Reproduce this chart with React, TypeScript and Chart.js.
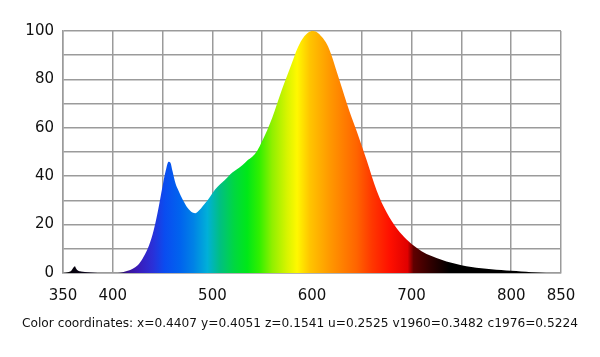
import React, { useEffect, useRef } from "react";
import { Chart, registerables } from "chart.js";

Chart.register(...registerables);

const wavelengths = [
  350, 355, 358, 360, 362, 363, 365, 368, 372, 378, 385, 395, 405, 410, 415, 420, 425, 430, 435, 440,
  445, 450, 453, 456, 458, 460, 463, 466, 470, 475, 480, 483, 487, 490, 495, 500, 505, 510, 515, 520,
  525, 530, 535, 540, 545, 550, 555, 560, 565, 570, 575, 580, 585, 590, 595, 600, 605, 610, 615, 620,
  625, 630, 635, 640, 645, 650, 655, 660, 665, 670, 675, 680, 685, 690, 695, 700, 710, 720, 730, 740,
  750, 760, 770, 780, 790, 800, 810, 820, 830, 840, 850,
];
const intensities = [
  0, 0.3, 0.8, 2.0, 2.8, 2.0, 1.0, 0.6, 0.4, 0.2, 0.05, 0, 0, 0.3, 0.9, 1.8, 3.2, 6.0, 10, 16,
  25, 36, 42, 46, 45.5, 42, 37, 34, 30.5, 27, 25, 24.7, 26, 27.5, 30, 33, 35.5, 37.5, 39.5, 41.5,
  43, 44.5, 46.5, 48, 50.5, 54.5, 59, 64, 70, 76, 81.5, 87, 92.5, 96.5, 99, 100, 99.5, 97.5, 94.5, 89.5,
  83, 76.5, 70, 64, 58.5, 52.5, 46.5, 40, 34, 29, 25, 21.5, 18.5, 16, 13.8, 12, 9, 7, 5.5, 4.2,
  3.2, 2.5, 2, 1.6, 1.2, 0.9, 0.6, 0.35, 0.15, 0.05, 0,
];
const xTickLabels = [350, 400, 500, 600, 700, 800, 850];
const yTickLabels = [0, 20, 40, 60, 80, 100];
const caption =
  "Color coordinates: x=0.4407 y=0.4051 z=0.1541 u=0.2525 v1960=0.3482 c1976=0.5224";

// spectral fill colour stops (wavelength, colour)
const stopNm = [350, 405, 415, 425, 440, 452, 468, 481, 495, 508, 522, 535, 547, 560, 575, 585, 598, 618, 645, 660, 678, 696, 702, 719, 738, 850];
const stopColor = [
  "#000000", "#1a0a40", "#3a1496", "#3a1ab8", "#2a30d8", "#0a4cf0", "#0064ee", "#0082e6", "#00b0d8", "#00c080",
  "#00d840", "#00e818", "#30f000", "#90f000", "#d8f400", "#fff800", "#ffc400", "#ff9800", "#ff6400", "#ff3800",
  "#ff1000", "#e00000", "#600000", "#300000", "#000000", "#000000",
];

export default function App() {
  const ref = useRef<HTMLCanvasElement>(null);
  useEffect(() => {
    if (!ref.current) return;
    const captionPlugin = {
      id: "caption",
      afterDraw(chart: any) {
        const c = chart.ctx;
        c.save();
        c.font = "12.2px 'DejaVu Sans'";
        c.fillStyle = "#111";
        c.textAlign = "center";
        c.textBaseline = "middle";
        c.fillText(caption, 300, 324);
        c.restore();
      },
    };
    const chart = new Chart(ref.current, {
      type: "line",
      data: {
        datasets: [
          {
            data: wavelengths.map((w, i) => ({ x: w, y: intensities[i] })),
            fill: "origin",
            borderWidth: 0,
            pointRadius: 0,
            cubicInterpolationMode: "monotone",
            backgroundColor: (ctx: any) => {
              const chart = ctx.chart;
              const { chartArea, scales } = chart;
              if (!chartArea) return "#000";
              const x0 = scales.x.getPixelForValue(350);
              const x1 = scales.x.getPixelForValue(850);
              const g = chart.ctx.createLinearGradient(x0, 0, x1, 0);
              stopNm.forEach((nm, i) => g.addColorStop((nm - 350) / 500, stopColor[i]));
              return g;
            },
          },
        ],
      },
      options: {
        animation: false,
        responsive: false,
        layout: { padding: { top: 31, right: 39, left: 0, bottom: 0 } },
        plugins: { legend: { display: false }, tooltip: { enabled: false } },
        scales: {
          x: {
            type: "linear",
            min: 350,
            max: 850,
            z: 1,
            afterFit: (s: any) => {
              s.height = 84;
            },
            grid: { color: "#9b9b9b", lineWidth: 1.5, drawTicks: false },
            border: { color: "#9b9b9b", width: 1.5 },
            ticks: {
              stepSize: 50,
              autoSkip: false,
              maxRotation: 0,
              padding: 14,
              color: "#111",
              font: { family: "'DejaVu Sans'", size: 15 },
              callback: (v: any) => (xTickLabels.includes(Number(v)) ? String(v) : ""),
            },
          },
          y: {
            min: 0,
            max: 100,
            z: 1,
            afterFit: (s: any) => {
              s.width = 63;
            },
            grid: { color: "#9b9b9b", lineWidth: 1.5, drawTicks: false },
            border: { color: "#9b9b9b", width: 1.5 },
            ticks: {
              stepSize: 10,
              autoSkip: false,
              padding: 9,
              color: "#111",
              font: { family: "'DejaVu Sans'", size: 15 },
              callback: (v: any) => (yTickLabels.includes(Number(v)) ? String(v) : ""),
            },
          },
        },
      },
      plugins: [captionPlugin],
    });
    return () => chart.destroy();
  }, []);
  return (
    <div style={{ position: "absolute", left: 0, top: 0, width: 600, height: 357, background: "#fff" }}>
      <canvas ref={ref} width={600} height={357} style={{ display: "block" }} />
    </div>
  );
}
